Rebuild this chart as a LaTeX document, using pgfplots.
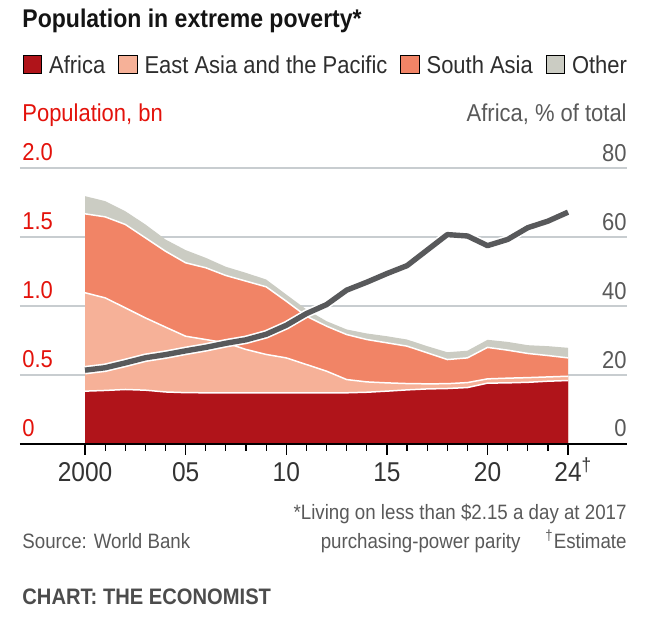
\documentclass[border=0pt]{standalone}
\usepackage{fontspec}
\setmainfont{Liberation Sans}[FakeStretch=0.9]
\usepackage{pgfplots}
\usepackage{pgfplotstable}
\pgfplotsset{compat=1.18}

\definecolor{cAfrica}{RGB}{176,20,26}
\definecolor{cEast}{RGB}{246,177,152}
\definecolor{cSouth}{RGB}{241,132,102}
\definecolor{cOther}{RGB}{203,204,195}
\definecolor{cLine}{RGB}{88,89,91}
\definecolor{cRed}{RGB}{227,18,11}
\definecolor{cGrey}{RGB}{89,89,89}
\definecolor{cGrid}{RGB}{200,205,208}

% cumulative tops of the stacked bands (bn) and Africa share (%)
\pgfplotstableread{
year af    ea    sa    ot    pct
2000 0.383 1.096 1.668 1.796 21.4
2001 0.388 1.059 1.646 1.760 22.1
2002 0.395 0.987 1.591 1.687 23.5
2003 0.390 0.914 1.494 1.591 25.0
2004 0.377 0.847 1.397 1.482 25.9
2005 0.372 0.781 1.313 1.405 27.0
2006 0.371 0.757 1.277 1.349 28.0
2007 0.371 0.733 1.221 1.284 29.2
2008 0.371 0.685 1.180 1.240 30.2
2009 0.371 0.649 1.139 1.192 31.8
2010 0.371 0.624 1.035 1.083 34.4
2011 0.371 0.576 0.926 0.975 37.8
2012 0.371 0.528 0.854 0.890 40.4
2013 0.371 0.467 0.793 0.830 44.6
2014 0.375 0.450 0.757 0.801 46.9
2015 0.383 0.443 0.733 0.781 49.4
2016 0.392 0.438 0.709 0.757 51.7
2017 0.399 0.436 0.661 0.709 56.2
2018 0.402 0.437 0.612 0.665 60.7
2019 0.409 0.445 0.624 0.676 60.3
2020 0.441 0.472 0.700 0.755 57.5
2021 0.443 0.477 0.680 0.740 59.3
2022 0.447 0.481 0.656 0.716 62.7
2023 0.455 0.486 0.641 0.709 64.6
2024 0.460 0.491 0.624 0.697 67.2
}\poverty

\pgfplotsset{
  econ/.style={
    scale only axis, width=303.5pt, height=138pt,
    xmin=1996.77, xmax=2026.93,
  },
}

\begin{document}
\begin{tikzpicture}
\path[use as bounding box] (-10pt,-98pt) rectangle (318pt,222pt);

\begin{axis}[econ,
  ymin=0, ymax=2,
  axis x line*=bottom, axis y line*=left,
  x axis line style={draw=none}, y axis line style={draw=none},
  xtick=\empty,
  ytick={0,0.5,1,1.5,2}, yticklabels={0,0.5,1.0,1.5,2.0},
  ytick style={draw=none},
  ymajorgrids, grid style={cGrid, line width=0.75pt},
  yticklabel style={anchor=base west, inner sep=0pt, xshift=1pt, yshift=3.5pt,
    font=\fontsize{12.2}{14}\selectfont, text=cRed},
  legend columns=-1,
  legend image code/.code={\fill[#1] (0pt,0pt) rectangle (9.2pt,9.2pt);},
  legend style={draw=none, fill=none, inner sep=0pt, outer sep=0pt,
    at={(axis description cs:0.0049,1.4094)}, anchor=north west,
    font=\fontsize{12.2}{14}\selectfont, text=black!82,
    nodes={inner sep=0pt, anchor=base west},
    /tikz/every odd column/.append style={column sep=3.5pt},
    /tikz/every even column/.append style={column sep=6.5pt}},
]
\addlegendimage{fill=cAfrica}
\addlegendentry{Africa}
\addlegendimage{fill=cEast}
\addlegendentry{East Asia and the Pacific}
\addlegendimage{fill=cSouth}
\addlegendentry{South Asia}
\addlegendimage{fill=cOther}
\addlegendentry{Other}

\addplot[draw=none, fill=cOther, forget plot] table[x=year, y=ot] {\poverty} \closedcycle;
\addplot[draw=none, fill=cSouth, forget plot] table[x=year, y=sa] {\poverty} \closedcycle;
\addplot[draw=none, fill=cEast, forget plot] table[x=year, y=ea] {\poverty} \closedcycle;
\addplot[draw=none, fill=cAfrica, forget plot] table[x=year, y=af] {\poverty} \closedcycle;
\addplot[white, line width=0.75pt, forget plot] table[x=year, y=sa] {\poverty};
\addplot[white, line width=0.75pt, forget plot] table[x=year, y=ea] {\poverty};
\addplot[white, line width=0.75pt, forget plot] table[x=year, y=af] {\poverty};
\end{axis}

\begin{axis}[econ,
  ymin=0, ymax=80,
  axis x line*=bottom, axis y line*=right,
  x axis line style={-, black, line width=0.75pt},
  y axis line style={draw=none},
  tick align=outside,
  xtick={2000,2005,2010,2015,2020,2024},
  xticklabels={2000,05,10,15,20,24\rlap{\textsuperscript{†}}},
  minor xtick={2001,2002,2003,2004,2006,2007,2008,2009,2011,2012,2013,2014,2016,2017,2018,2019,2021,2022,2023},
  major tick length=5.5pt, minor tick length=3.5pt,
  xtick style={black, line width=0.6pt},
  xticklabel style={anchor=base, inner sep=0pt, yshift=-13.5pt,
    font=\fontsize{13.6}{15}\selectfont, text=black!80},
  ytick={0,20,40,60,80}, yticklabels={0,20,40,60,80},
  ytick style={draw=none},
  yticklabel style={anchor=base east, inner sep=0pt, xshift=-5.5pt, yshift=3.5pt,
    font=\fontsize{12.2}{14}\selectfont, text=cGrey},
]
\addplot[white, line width=4.3pt, line join=round] table[x=year, y=pct] {\poverty};
\addplot[cLine, line width=2.7pt, line join=round] table[x=year, y=pct] {\poverty};
\end{axis}

\node[anchor=base west, inner sep=0pt, text=black!92] at (1pt,208pt)
  {\fontsize{12.8}{15}\selectfont\bfseries Population in extreme poverty*};
\node[anchor=base west, inner sep=0pt, text=cRed] at (1pt,161pt)
  {\fontsize{12.2}{14}\selectfont Population, bn};
\node[anchor=base east, inner sep=0pt, text=cGrey] at (303.5pt,161pt)
  {\fontsize{12.2}{14}\selectfont Africa, \% of total};
\node[anchor=base east, inner sep=0pt, text=cGrey] at (303.5pt,-37.5pt)
  {\fontsize{10.4}{12}\selectfont *Living on less than \$2.15 a day at 2017};
\node[anchor=base east, inner sep=0pt, text=cGrey] at (303.5pt,-52pt)
  {\fontsize{10.4}{12}\selectfont purchasing-power parity\hspace{1.2em}\textsuperscript{†}Estimate};
\node[anchor=base west, inner sep=0pt, text=cGrey] at (1pt,-52pt)
  {\fontsize{10.4}{12}\selectfont Source: World Bank};
\node[anchor=base west, inner sep=0pt, text=black!70] at (1pt,-80pt)
  {\fontsize{11.2}{13}\selectfont\bfseries CHART: THE ECONOMIST};
\end{tikzpicture}
\end{document}
